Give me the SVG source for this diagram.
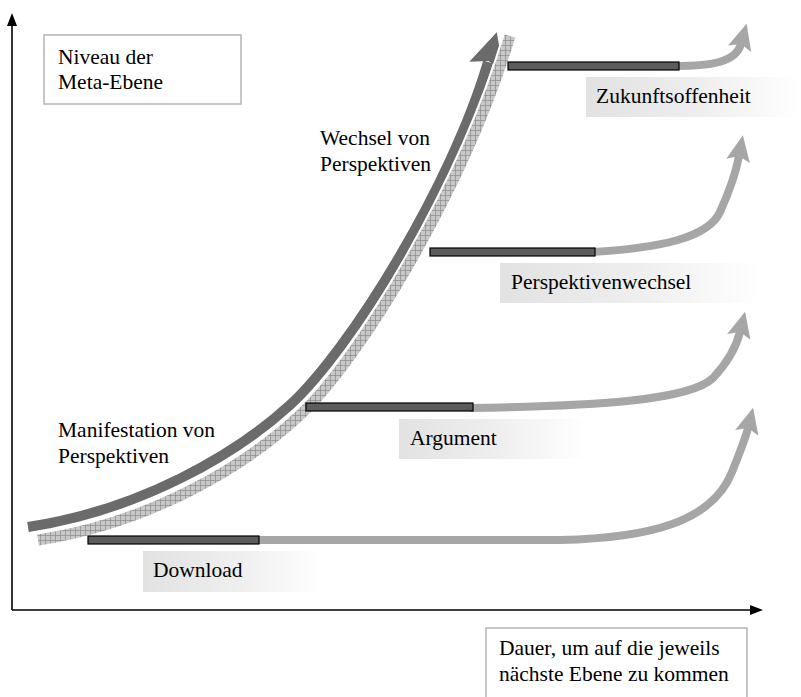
<svg xmlns="http://www.w3.org/2000/svg" width="801" height="697" viewBox="0 0 801 697">
<style>
text{font-family:"Times New Roman",Times,"Liberation Serif","Nimbus Roman","Noto Serif","DejaVu Serif",Tinos,FreeSerif,serif;font-size:21.5px;fill:#000}
.box{fill:#fff;stroke:#b4b4b4;stroke-width:1.5}
.bar{fill:#5c5c5c;stroke:#000;stroke-width:1.2}
.grow{fill:none;stroke:#a6a6a6;stroke-width:8}
.axis{fill:none;stroke:#000;stroke-width:1.6}
.lbl{fill:url(#fade)}
</style>
<defs>
<linearGradient id="fade" x1="0" y1="0" x2="1" y2="0">
<stop offset="0" stop-color="#e2e2e2"/>
<stop offset="0.55" stop-color="#efefef"/>
<stop offset="1" stop-color="#ffffff"/>
</linearGradient>
<pattern id="hatch" patternUnits="userSpaceOnUse" width="5" height="5">
<rect width="5" height="5" fill="#c8c8c8"/>
<path d="M0,0.4H5M0.4,0V5" stroke="#8c8c8c" stroke-width="0.8"/>
</pattern>
<marker id="ah" markerUnits="userSpaceOnUse" markerWidth="28" markerHeight="26" viewBox="0 0 28 26" refX="5" refY="13" orient="auto">
<path d="M0,1 L26,13 L0,25 L5,13 z" fill="#a6a6a6"/>
</marker>
<marker id="ahd" markerUnits="userSpaceOnUse" markerWidth="38" markerHeight="38" viewBox="0 0 38 38" refX="5" refY="19" orient="auto">
<path d="M0,1 L36,19 L0,37 L6,19 z" fill="#6b6b6b"/>
</marker>
<marker id="ax" markerUnits="userSpaceOnUse" markerWidth="14" markerHeight="12" viewBox="0 0 14 12" refX="2" refY="6" orient="auto">
<path d="M0,1 L13,6 L0,11 z" fill="#000"/>
</marker>
</defs>

<g id="axes">
<path class="axis" d="M12,610 V24" marker-end="url(#ax)"/>
<path class="axis" d="M12,610 H752" marker-end="url(#ax)"/>
</g>

<g id="box-niveau">
<rect class="box" x="44" y="35" width="197" height="69"/>
<text x="58" y="64">Niveau der</text>
<text x="58" y="89">Meta-Ebene</text>
</g>

<g id="box-dauer">
<rect class="box" x="486" y="628" width="261" height="75"/>
<text x="499" y="655">Dauer, um auf die jeweils</text>
<text x="499" y="681">nächste Ebene zu kommen</text>
</g>

<g id="connectors">
<path d="M28,527 C140,510 235,455 290,405 C350,350 452,185 488,62" fill="none" stroke="#6b6b6b" stroke-width="10" marker-end="url(#ahd)"/>
<path d="M38,540 C150,523 244,467 299,416 C360,360 464,188 510,36" fill="none" stroke="#fff" stroke-width="15"/>
<path d="M38,540 C150,523 244,467 299,416 C360,360 464,188 510,36" fill="none" stroke="url(#hatch)" stroke-width="11"/>
<path class="grow" d="M676,66 C712,66 736,62 741,44" marker-end="url(#ah)"/>
<path class="grow" d="M592,252 C660,248 708,238 720,212 C730,190 736,172 739,156" marker-end="url(#ah)"/>
<path class="grow" d="M470,408 C600,406 690,400 713,378 C728,362 736,348 740,332" marker-end="url(#ah)"/>
<path class="grow" d="M256,540 L560,540 C650,538 712,522 732,472 C740,452 745,440 748,428" marker-end="url(#ah)"/>
</g>

<g id="label-wechsel">
<text x="320" y="145">Wechsel von</text>
<text x="320" y="171">Perspektiven</text>
</g>
<g id="label-manifestation">
<text x="58" y="437">Manifestation von</text>
<text x="58" y="463">Perspektiven</text>
</g>

<g id="level-zukunft">
<rect class="bar" x="508" y="62" width="171" height="8"/>
<rect class="lbl" x="586" y="77" width="215" height="40"/>
<text x="596" y="103">Zukunftsoffenheit</text>
</g>
<g id="level-perspektivenwechsel">
<rect class="bar" x="430" y="248" width="165" height="8"/>
<rect class="lbl" x="500" y="263" width="260" height="40"/>
<text x="511" y="289">Perspektivenwechsel</text>
</g>
<g id="level-argument">
<rect class="bar" x="306" y="403" width="167" height="8"/>
<rect class="lbl" x="399" y="419" width="186" height="40"/>
<text x="410" y="445">Argument</text>
</g>
<g id="level-download">
<rect class="bar" x="88" y="536" width="171" height="8"/>
<rect class="lbl" x="143" y="551" width="180" height="41"/>
<text x="153" y="577">Download</text>
</g>
</svg>
